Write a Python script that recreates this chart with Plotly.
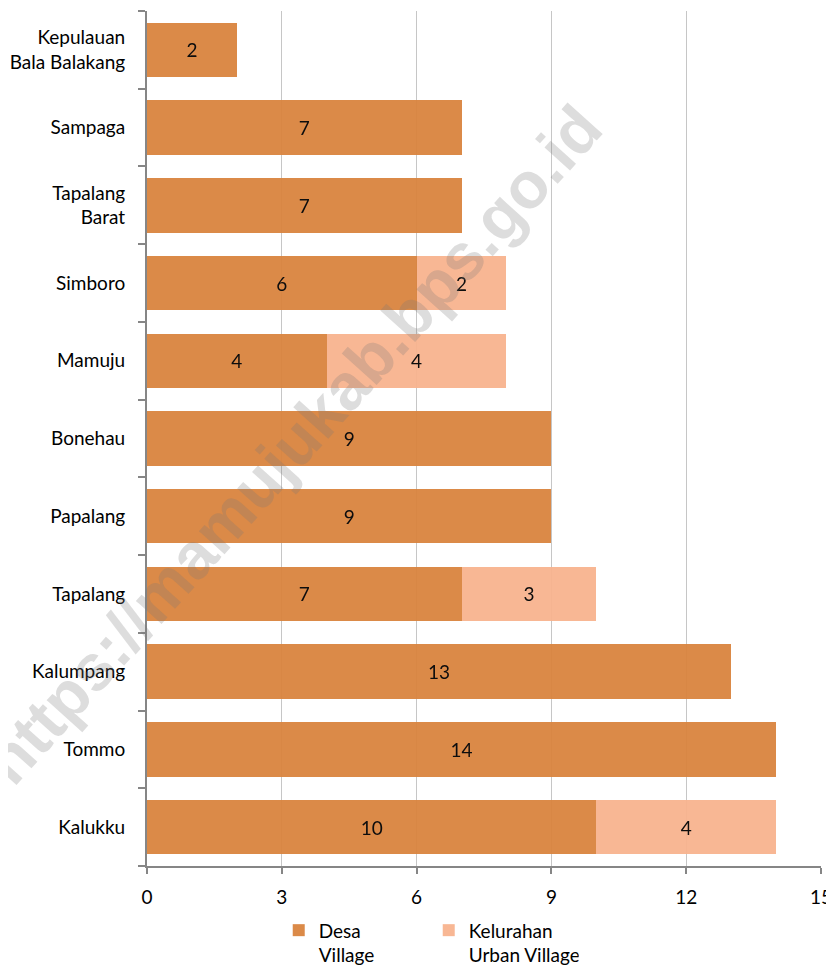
import plotly.graph_objects as go

categories = ["Kalukku", "Tommo", "Kalumpang", "Tapalang", "Papalang", "Bonehau",
              "Mamuju", "Simboro", "Tapalang<br>Barat", "Sampaga",
              "Kepulauan<br>Bala Balakang"]
desa = [10, 14, 13, 7, 9, 9, 4, 6, 7, 7, 2]
kelurahan = [4, 0, 0, 3, 0, 0, 4, 2, 0, 0, 0]
x_ticks = [0, 3, 6, 9, 12, 15]
series_names = ["Desa<br>Village", "Kelurahan<br>Urban Village"]
watermark = "https://mamujukab.bps.go.id"

FONT = "Lato"
FS = 19
fig = go.Figure()
for vals, name, color in [(desa, series_names[0], "#DA843F"),
                          (kelurahan, series_names[1], "#F8B48F")]:
    fig.add_trace(go.Bar(
        y=categories, x=vals, orientation="h", name=name,
        marker=dict(color=color, line=dict(width=0)), opacity=0.95,
        width=0.7,
        text=[str(v) if v else "" for v in vals],
        textposition="inside", insidetextanchor="middle",
        textfont=dict(color="black", size=FS, family=FONT),
        constraintext="none", hoverinfo="skip",
    ))

# page body has an 8px margin: figure is sized/offset to compensate
fig.update_layout(
    barmode="stack",
    width=826, height=959,
    margin=dict(l=139, r=13, t=3, b=101, autoexpand=False),
    plot_bgcolor="white", paper_bgcolor="white",
    font=dict(family=FONT, size=FS, color="black"),
    xaxis=dict(range=[0, 15], tickvals=x_ticks, showgrid=True, gridcolor="#C6C6C6",
               gridwidth=1, zeroline=False, showline=True, linecolor="#868686",
               linewidth=2, ticks="outside", ticklen=6, tickcolor="#868686",
               tickwidth=2, tickfont=dict(size=FS), ticklabelstandoff=7,
               fixedrange=True, automargin=False),
    yaxis=dict(categoryorder="array", categoryarray=categories, range=[-0.5, 10.5],
               showline=True, linecolor="#868686", linewidth=2, ticks="outside",
               tickson="boundaries", ticklen=7, tickcolor="#868686", tickwidth=2,
               showgrid=False, tickfont=dict(size=FS), ticklabelstandoff=16,
               automargin=False),
    legend=dict(orientation="h", x=0.418, xanchor="center", y=-0.053, yanchor="top",
                font=dict(size=FS), traceorder="normal", entrywidth=105,
                entrywidthmode="pixels", valign="top", itemwidth=30),
    showlegend=True,
)
fig.add_annotation(
    text="<b>" + watermark + "</b>", xref="paper", yref="paper",
    xanchor="center", yanchor="middle",
    x=(293 - 147) / 674, y=1 - (445 - 11) / 855, showarrow=False, textangle=-48,
    font=dict(family="Liberation Sans", size=65, color="rgba(120,120,120,0.25)"),
)
fig.write_html("out.html")
